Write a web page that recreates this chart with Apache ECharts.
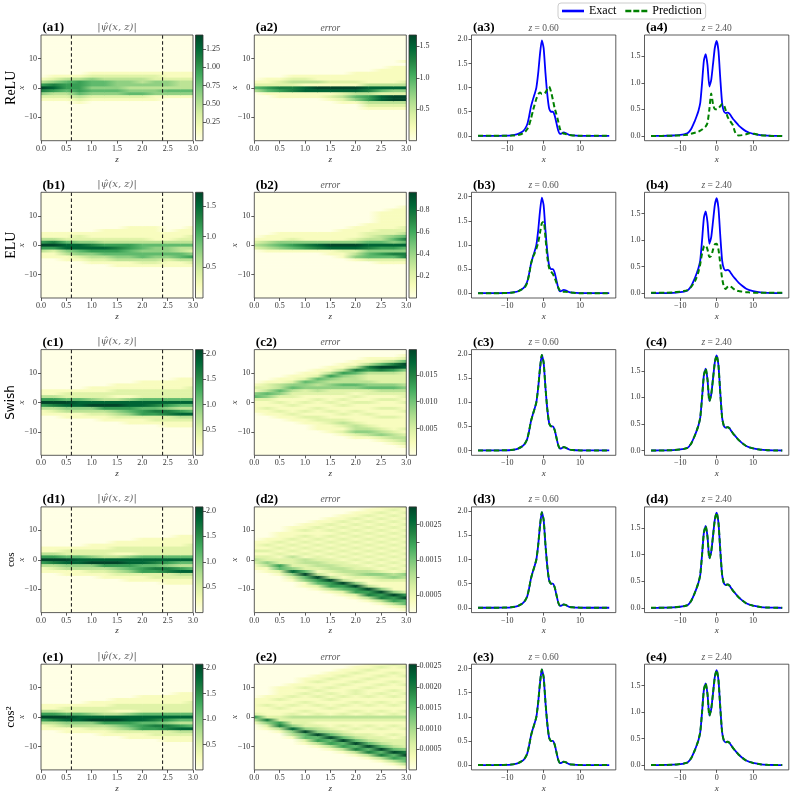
<!DOCTYPE html>
<html><head><meta charset="utf-8">
<script src="https://cdn.jsdelivr.net/npm/echarts@6.0.0/dist/echarts.min.js"></script>
<style>html,body{margin:0;padding:0;background:#fff}#c{width:795px;height:799px}</style>
</head><body><div id="c"></div>
<script>
// ---------------- DATA ----------------
const rowNames = ['ReLU', 'ELU', 'Swish', 'cos', 'cos\u00B2'];
const rowLetters = ['a', 'b', 'c', 'd', 'e'];
const zCuts = [0.6, 2.4];
const zNodes = [0, 0.25, 0.5, 0.75, 1, 1.25, 1.5, 1.75, 2, 2.25, 2.5, 2.75, 3];
// heat-map columns: one string per z node; chars = intensity level 0..9 for x = 18 ... -18 (step 1)
// segments: x=18..9 | x=8..-8 | x=-9..-18
const psiReLU = [
 '0000000000|00000136974210000|0000000000','0000000000|00001247863210000|0000000000',
 '0000000000|00001356653210000|0000000000','0000000000|00001366665321000|0000000000',
 '0000000000|00012455454210000|0000000000','0000000000|00012355454210000|0000000000',
 '0000000000|00012344454210000|0000000000','0000000000|00012344345210000|0000000000',
 '0000000000|00012334345210000|0000000000','0000000000|00012244344110000|0000000000',
 '0000000000|00011244354100000|0000000000','0000000000|00011233354100000|0000000000',
 '0000000000|00011233354100000|0000000000'];
const psiELU = [
 '0000000000|00001136963110000|0000000000','0000000000|00001137962110000|0000000000',
 '0000000000|00001125884311000|0000000000','0000000000|00001224885421000|0000000000',
 '0000000000|00001124786432100|0000000000','0000000000|00011123686532100|0000000000',
 '0000000000|00011123676543110|0000000000','0000000000|00111123665543110|0000000000',
 '0000000000|00111123554553210|0000000000','0000000000|00111113544543210|0000000000',
 '0000000000|00001113544542110|0000000000','0000000000|00011123533553110|0000000000',
 '0000000000|00111223532463210|0000000000'];
const psiAccurate = [
 '0000000000|00001136963110000|0000000000','0000000000|00001136973210000|0000000000',
 '0000000000|00001225984311000|0000000000','0000000000|00001225884311000|0000000000',
 '0000000000|00011224894321000|0000000000','0000000000|00011223896321100|0000000000',
 '0000000000|00112213896432100|0000000000','0000000000|00112214886542110|0000000000',
 '0000000000|01112225885662110|0000000000','0000000000|01112225875762210|0000000000',
 '0000000000|01112225864772211|0000000000','0000000000|11112225853683211|0000000000',
 '0000000000|11122225853583211|0000000000'];
const errReLU = [
 '0000000000|00000012530000000|0000000000','0000000000|00000112651000000|0000000000',
 '0000000000|00000122761100000|0000000000','0000000000|00001232771100000|0000000000',
 '0000000000|00001231881100000|0000000000','0000000000|00001131981100000|0000000000',
 '0000000000|00001121981210000|0000000000','0000000000|00001121982321000|0000000000',
 '0000000000|00011121983541000|0000000000','0000000000|00011113873663210|0000000000',
 '0000000000|00111113852883210|0000000000','0000000000|01111113842993210|0000000000',
 '0000000001|01111123842993210|0000000000'];
const errELU = [
 '0000000000|00000012320000000|0000000000','0000000000|00000113431000000|0000000000',
 '0000000000|00001114541000000|0000000000','0000000000|00001124651000000|0000000000',
 '0000000000|00001114761000000|0000000000','0000000000|00001114871000000|0000000000',
 '0000000000|00001114981100000|0000000000','0000000000|00011114982110000|0000000000',
 '0000000000|00111124982341000|0000000000','0000000000|01112235874552000|0000000000',
 '0000000111|11122335864652100|0000000000','0000001111|11122454864752100|0000000000',
 '0000011111|11223575854772100|0000000000'];
const errSwish = [
 '0000000000|00121452111100000|0000000000','0000000000|01223542112110000|0000000000',
 '0000000000|11335421211211000|0000000000','0000000001|12453221121121100|0000000000',
 '0000000011|25442211211212110|0000000000','0000000112|54343212112112211|1000000000',
 '0000001136|43442211211211221|1100000000','0000011364|33542212121121232|1210000000',
 '0000113753|33542121211211123|3421000000','0001137632|23452211211121112|3431000000',
 '0001259732|22453212112112111|2342100000','0001379632|22453212112112111|1233210000',
 '0012598422|22343221211211111|2123321000'];
const errCos = [
 '0000000000|00111212321100000|0000000000','0000000000|01121212243110000|0000000000',
 '0000000001|11212121226521000|0000000000','0000000111|12121213222484210|0000000000',
 '0000001121|21212121332259541|1000000000','0000011211|12121212233213965|2100000000',
 '0000112121|21212121223321396|6310000000','0001121212|12121212122332139|6521000000',
 '0011212121|21212121212233214|9662100000','0112121212|12121212121234211|3967310000',
 '1121212121|21212121212124321|1496731000','1212121212|12121212121213421|1149663100',
 '2121212121|21212121212124321|1126955210'];
const errCos2 = [
 '0000000000|00111112631000000|0000000000','0000000000|01112111274210000|0000000000',
 '0000000011|11211211226731000|0000000000','0000000111|12112112322484310|0000000000',
 '0000011121|21121121322249552|1000000000','0000112112|12112112321234956|3100000000',
 '0001121121|21211211321123595|6310000000','0011211211|12112112321212359|5631000000',
 '0112112112|21121121321121235|9573100000','1121121121|12112112321211223|5957310000',
 '1211211211|21121121321121122|3595731000','2112112112|12112112321211212|2359563100',
 '1211211211|21121121321121122|2247955310'];

// colour-bar ranges and ticks
const psiRanges = [[0, 1.44], [0, 1.72], [0, 2.08], [0, 2.08], [0, 2.08]];
const psiTicks = [[0.25, 0.5, 0.75, 1.0, 1.25], [0.5, 1.0, 1.5], [0.5, 1.0, 1.5, 2.0], [0.5, 1.0, 1.5, 2.0], [0.5, 1.0, 1.5, 2.0]];
const psiDecimals = [2, 1, 1, 1, 1];
const errRanges = [[0, 1.68], [0, 0.96], [0, 0.0197], [0, 0.0030], [0, 0.00255]];
const errTicks = [[0.5, 1.0, 1.5], [0.2, 0.4, 0.6, 0.8], [0.005, 0.010, 0.015], [0.0005, 0.0010, 0.0015, 0.0020, 0.0025], [0.0005, 0.0010, 0.0015, 0.0020, 0.0025]];
const errTickLabels = [[0.5, 1.0, 1.5], [0.2, 0.4, 0.6, 0.8], [0.005, 0.010, 0.015], [0.0005, 0.0015, 0.0025], [0.0005, 0.0010, 0.0015, 0.0020, 0.0025]];
const errDecimals = [1, 1, 3, 4, 4];
const zTicks = [0, 0.5, 1.0, 1.5, 2.0, 2.5, 3.0];
const xTicksHeat = [-10, 0, 10];
const xTicksLine = [-10, 0, 10];
const yTicks06 = [0, 0.5, 1.0, 1.5, 2.0];
const yTicks24 = [0, 0.5, 1.0, 1.5];

// line profiles
const xGrid = [-18,-16,-14,-12,-10,-9,-8,-7,-6,-5.5,-5,-4.5,-4,-3.5,-3,-2.5,-2,-1.5,-1,-0.5,0,0.5,1,1.5,2,2.5,3,3.5,4,4.5,5,5.5,6,7,8,9,10,12,14,16,18];
const exact06 = [0,0,0,0.002,0.005,0.01,0.02,0.04,0.08,0.11,0.16,0.24,0.4,0.6,0.74,0.86,1.0,1.3,1.7,1.98,1.82,1.3,0.86,0.57,0.5,0.5,0.43,0.27,0.11,0.04,0.05,0.07,0.06,0.02,0.01,0.005,0.002,0,0,0,0];
const exact24 = [0,0.001,0.003,0.008,0.02,0.03,0.05,0.13,0.28,0.37,0.47,0.62,1.0,1.42,1.54,1.33,0.93,1.05,1.35,1.66,1.79,1.6,1.08,0.62,0.46,0.43,0.44,0.42,0.37,0.32,0.28,0.24,0.2,0.14,0.09,0.06,0.04,0.015,0.005,0.002,0];
const predReLU06 = [0,0,0,0,0,0.005,0.01,0.02,0.04,0.06,0.09,0.14,0.22,0.35,0.5,0.64,0.77,0.86,0.9,0.87,0.87,0.9,0.97,1.02,0.92,0.76,0.58,0.45,0.3,0.14,0.07,0.05,0.04,0.02,0.01,0.005,0,0,0,0,0];
const predReLU24 = [0,0,0.002,0.005,0.01,0.015,0.02,0.04,0.06,0.07,0.08,0.1,0.12,0.15,0.18,0.25,0.5,0.8,0.6,0.5,0.5,0.52,0.56,0.6,0.58,0.48,0.36,0.3,0.25,0.2,0.08,0.02,0.01,0.015,0.03,0.05,0.045,0.015,0.005,0,0];
const predELU06 = [0,0,0,0,0.005,0.01,0.02,0.04,0.08,0.1,0.14,0.22,0.38,0.6,0.74,0.82,0.92,1.05,1.25,1.45,1.48,1.15,0.75,0.52,0.45,0.4,0.32,0.22,0.12,0.05,0.03,0.03,0.03,0.02,0.01,0,0,0,0,0,0];
const predELU24 = [0.01,0.01,0.01,0.015,0.03,0.04,0.06,0.12,0.22,0.3,0.4,0.55,0.75,0.88,0.9,0.82,0.68,0.7,0.82,0.92,0.93,0.82,0.55,0.28,0.12,0.08,0.12,0.14,0.12,0.09,0.06,0.05,0.04,0.03,0.02,0.015,0.01,0.01,0.01,0.01,0.01];
// Swish / cos / cos^2 predictions coincide with the exact curves in the picture
const predSwish06 = exact06, predSwish24 = exact24;
const predCos06 = exact06, predCos24 = exact24;
const predCos2_06 = exact06, predCos2_24 = exact24;

const psiPanels = [psiReLU, psiELU, psiAccurate, psiAccurate, psiAccurate];
const errPanels = [errReLU, errELU, errSwish, errCos, errCos2];
const pred06 = [predReLU06, predELU06, predSwish06, predCos06, predCos2_06];
const pred24 = [predReLU24, predELU24, predSwish24, predCos24, predCos2_24];

// ---------------- STYLE / LAYOUT ----------------
const YLGN = ['#ffffe5','#f7fcb9','#d9f0a3','#addd8e','#78c679','#41ab5d','#238443','#006837','#004529'];
const YRGB = YLGN.map(h => [parseInt(h.slice(1,3),16), parseInt(h.slice(3,5),16), parseInt(h.slice(5,7),16)]);
function cmap(t) {
  t = Math.max(0, Math.min(1, t));
  const f = t * 8, k = Math.min(7, Math.floor(f)), u = f - k;
  const a = YRGB[k], b = YRGB[k + 1];
  return 'rgb(' + a.map((v, i) => Math.round(v + (b[i] - v) * u)).join(',') + ')';
}
const SERIF = 'Liberation Serif';
const TOP0 = 35, STEP = 157.3, H = 105.7;
const HM_L = [41, 254.3], HM_W = 152;
const CB_L = [195.5, 409], CB_W = 7.5;
const LN_L = [471.5, 644.5], LN_W = 144.3;
const TXT = '#333';

function parsePanel(cols) {
  const g = cols.map(s => {
    const p = s.split('|');
    const u = (p[0] || '').padEnd(10, '0').slice(0, 10);
    const m = (p[1] || '').padEnd(17, '0').slice(0, 17);
    const l = (p[2] || '').padEnd(10, '0').slice(0, 10);
    return (u + m + l).split('').map(Number);
  });
  const items = [];
  for (let j = 0; j < zNodes.length - 1; j++)
    for (let i = 0; i < 37; i++)
      items.push([zNodes[j], 18 - i, g[j][i], g[j + 1][i], zNodes[j + 1]]);
  return items;
}
function heatRender(params, api) {
  const z0 = api.value(0), x = api.value(1), l0 = api.value(2), l1 = api.value(3), z1 = api.value(4);
  const p0 = api.coord([z0, x + 0.5]), p1 = api.coord([z1, x - 0.5]);
  const cs = params.coordSys;
  const shape = echarts.graphic.clipRectByRect(
    { x: p0[0], y: p0[1], width: p1[0] - p0[0] + 0.6, height: p1[1] - p0[1] + 0.6 },
    { x: cs.x, y: cs.y, width: cs.width, height: cs.height });
  if (!shape) return;
  return { type: 'rect', shape: shape,
    style: { fill: new echarts.graphic.LinearGradient(0, 0, 1, 0, [{ offset: 0, color: cmap(l0 / 9) }, { offset: 1, color: cmap(l1 / 9) }]) } };
}
function cbRender(params) {
  const cs = params.coordSys;
  return { type: 'rect', shape: { x: cs.x, y: cs.y, width: cs.width, height: cs.height },
    style: { fill: new echarts.graphic.LinearGradient(0, 1, 0, 0, YLGN.map((c, k) => ({ offset: k / 8, color: c }))) } };
}
const minus = v => String(v).replace('-', '\u2212');
const lblStyle = { fontFamily: SERIF, fontSize: 8, color: TXT };
const nameStyle = { fontFamily: SERIF, fontSize: 9, fontStyle: 'italic', color: TXT };

const grids = [], xAxes = [], yAxes = [], series = [], graphics = [];
function addGrid(left, top, width, height, xa, ya) {
  const gi = grids.length;
  grids.push({ left: left, top: top, width: width, height: height, show: true, borderColor: '#333', borderWidth: 0.8, backgroundColor: 'transparent', z: 5 });
  xa.gridIndex = gi; ya.gridIndex = gi;
  xAxes.push(xa); yAxes.push(ya);
  return gi;
}
function valAxis(min, max, ticks, fmt, extra) {
  return Object.assign({
    type: 'value', min: min, max: max, nameMoveOverlap: false,
    axisLine: { show: false, onZero: false }, splitLine: { show: false },
    axisTick: { show: true, length: 3, customValues: ticks, lineStyle: { color: '#333', width: 0.8 } },
    axisLabel: Object.assign({ customValues: ticks, formatter: fmt, margin: 4 }, lblStyle)
  }, extra || {});
}
const rowFonts = [
  { fontFamily: SERIF, fontSize: 14 }, { fontFamily: SERIF, fontSize: 14 }, { fontFamily: 'DejaVu Sans', fontSize: 12 },
  { fontFamily: SERIF, fontSize: 11 }, { fontFamily: SERIF, fontSize: 13 }];

for (let r = 0; r < 5; r++) {
  const top = TOP0 + STEP * r;
  const L = rowLetters[r];
  // ---- heat maps (col 1 & 2) ----
  const panels = [psiPanels[r], errPanels[r]];
  const ranges = [psiRanges[r], errRanges[r]];
  for (let c = 0; c < 2; c++) {
    const gi = addGrid(HM_L[c], top, HM_W, H,
      valAxis(0, 3, zTicks, v => v.toFixed(1), { name: 'z', nameLocation: 'middle', nameGap: 14, nameTextStyle: nameStyle }),
      valAxis(-18, 18, xTicksHeat, v => minus(v), { name: 'x', nameLocation: 'middle', nameGap: 15, nameRotate: 90, nameTextStyle: nameStyle }));
    series.push({ type: 'custom', xAxisIndex: gi, yAxisIndex: gi, renderItem: heatRender,
      encode: { x: 0, y: 1 }, data: parsePanel(panels[c]), silent: true, z: 1 });
    if (c === 0) {
      zCuts.forEach(zc => series.push({ type: 'line', xAxisIndex: gi, yAxisIndex: gi, data: [[zc, -18], [zc, 18]],
        symbol: 'none', silent: true, z: 3, lineStyle: { color: '#111', width: 1, type: [3.5, 2.5] } }));
    }
    // colour bar
    const rg = ranges[c];
    const ticks = c === 0 ? psiTicks[r] : errTicks[r];
    const labs = c === 0 ? psiTicks[r] : errTickLabels[r];
    const dec = c === 0 ? psiDecimals[r] : errDecimals[r];
    const cbi = addGrid(CB_L[c], top, CB_W, H,
      { type: 'value', min: 0, max: 1, show: false },
      { type: 'value', min: rg[0], max: rg[1], position: 'right',
        axisLine: { show: false, onZero: false }, splitLine: { show: false },
        axisTick: { show: true, length: 3, customValues: ticks, lineStyle: { color: '#333', width: 0.8 } },
        axisLabel: Object.assign({ customValues: labs, formatter: v => v.toFixed(dec), margin: 3 }, lblStyle) });
    series.push({ type: 'custom', xAxisIndex: cbi, yAxisIndex: cbi, renderItem: cbRender, data: [[0, rg[0]]], silent: true, z: 1 });
    // tag + title
    graphics.push({ type: 'text', x: HM_L[c] + 1.5, y: top - 0.5, style: { text: '(' + L + (c + 1) + ')', fontFamily: SERIF, fontWeight: 'bold', fontSize: 13, fill: '#000', align: 'left', verticalAlign: 'bottom' } });
    if (c === 0) {
      graphics.push({ type: 'text', x: HM_L[c] + HM_W / 2, y: top - 8, style: { text: '|\u03C8\u0302(x, z)|', fontFamily: 'DejaVu Serif', fontStyle: 'italic', fontSize: 10, fill: '#666', align: 'center', verticalAlign: 'middle' } });
    } else {
      graphics.push({ type: 'text', x: HM_L[c] + HM_W / 2, y: top - 7, style: { text: 'error', fontFamily: SERIF, fontStyle: 'italic', fontSize: 9.5, fill: '#555', align: 'center', verticalAlign: 'middle' } });
    }
  }
  // ---- line plots (col 3 & 4) ----
  const cuts = [[exact06, pred06[r], -0.1, 2.09, yTicks06], [exact24, pred24[r], -0.09, 1.9, yTicks24]];
  for (let c = 0; c < 2; c++) {
    const cfg = cuts[c];
    const gi = addGrid(LN_L[c], top, LN_W, H,
      valAxis(-19.8, 19.8, xTicksLine, v => minus(v), { name: 'x', nameLocation: 'middle', nameGap: 14, nameTextStyle: nameStyle }),
      valAxis(cfg[2], cfg[3], cfg[4], v => v.toFixed(1)));
    series.push({ type: 'line', name: 'Exact', xAxisIndex: gi, yAxisIndex: gi, color: '#0000ff',
      data: xGrid.map((x, i) => [x, cfg[0][i]]), symbol: 'none', smooth: 0.2, z: 3,
      lineStyle: { color: '#0000ff', width: 1.8 } });
    series.push({ type: 'line', name: 'Prediction', xAxisIndex: gi, yAxisIndex: gi, color: '#008000',
      data: xGrid.map((x, i) => [x, cfg[1][i]]), symbol: 'none', smooth: 0.2, z: 4,
      lineStyle: { color: '#008000', width: 2, type: [5, 3] } });
    graphics.push({ type: 'text', x: LN_L[c] + 1.5, y: top - 0.5, style: { text: '(' + L + (c + 3) + ')', fontFamily: SERIF, fontWeight: 'bold', fontSize: 13, fill: '#000', align: 'left', verticalAlign: 'bottom' } });
    graphics.push({ type: 'text', x: LN_L[c] + LN_W / 2, y: top - 7, style: { text: '{i|z} = ' + zCuts[c].toFixed(2), fontFamily: SERIF, fontSize: 9.5, fill: '#555', align: 'center', verticalAlign: 'middle',
      rich: { i: { fontFamily: SERIF, fontSize: 9.5, fontStyle: 'italic', fill: '#555' } } } });
  }
  // ---- row label ----
  graphics.push({ type: 'text', x: 11, y: top + H / 2, rotation: Math.PI / 2,
    style: Object.assign({ text: rowNames[r], fill: '#000', align: 'center', verticalAlign: 'middle' }, rowFonts[r]) });
}

const chart = echarts.init(document.getElementById('c'), null, { renderer: 'canvas' });
chart.setOption({
  animation: false,
  backgroundColor: '#fff',
  grid: grids, xAxis: xAxes, yAxis: yAxes, series: series,
  legend: {
    data: [
      { name: 'Exact', icon: 'path://M0,0H22V2.6H0Z' },
      { name: 'Prediction', icon: 'path://M0,0H6V2.6H0Z M8,0H14V2.6H8Z M16,0H22V2.6H16Z' }
    ],
    left: 558, top: 3, itemWidth: 22, itemHeight: 10, itemGap: 9,
    padding: [2, 4, 2, 4], borderColor: '#ccc', borderWidth: 1, borderRadius: 3, backgroundColor: '#fff',
    textStyle: { fontFamily: SERIF, fontSize: 12, color: '#000' } },
  graphic: { elements: graphics }
});
</script></body></html>
